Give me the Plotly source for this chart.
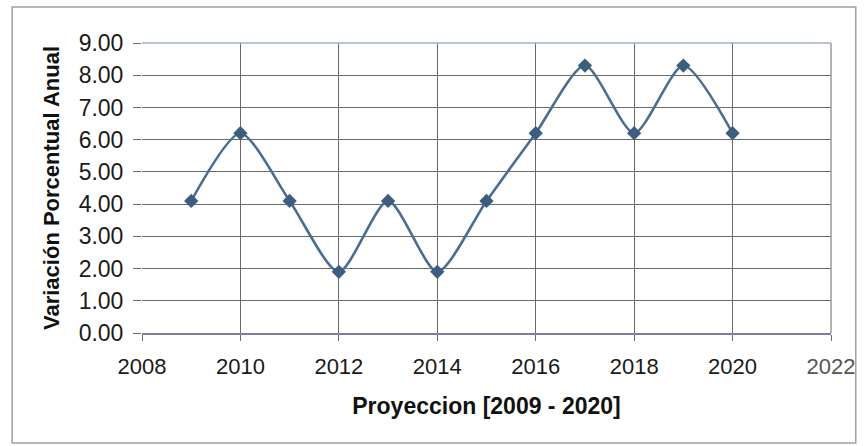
import plotly.graph_objects as go

# Annual projection data
years = [2009, 2010, 2011, 2012, 2013, 2014, 2015, 2016, 2017, 2018, 2019, 2020]
variacion = [4.1, 6.2, 4.1, 1.9, 4.1, 1.9, 4.1, 6.2, 8.3, 6.2, 8.3, 6.2]

x_ticks = [2008, 2010, 2012, 2014, 2016, 2018, 2020, 2022]
y_ticks = [0, 1, 2, 3, 4, 5, 6, 7, 8, 9]

W, H = 867, 446
ml, mr, mt, mb = 142, 30, 43, 113
FONT = "Liberation Sans, Arial"

fig = go.Figure()
fig.add_trace(go.Scatter(
    x=years, y=variacion,
    mode="lines+markers",
    line=dict(shape="spline", smoothing=0.7, color="#4a6d92", width=2.6),
    marker=dict(symbol="diamond", size=11, color="#3d5d7f"),
    showlegend=False,
))

grid = "#6a6a6a"
fig.update_xaxes(
    range=[2008, 2022], tickvals=x_ticks,
    ticktext=[str(v) if v != 2022 else '<span style="color:#555">2022</span>' for v in x_ticks],
    showgrid=True, gridcolor=grid, gridwidth=1,
    zeroline=False, showline=True, linecolor="#7b7fa8", linewidth=1.5,
    ticks="outside", ticklen=6, tickcolor=grid,
    ticklabelstandoff=7,
    tickfont=dict(family=FONT, size=22, color="#1a1a1a"),
    title=dict(text="<b>Proyeccion [2009 - 2020]</b>",
               font=dict(family=FONT, size=23, color="#111"),
               standoff=20),
)
fig.update_yaxes(
    range=[0, 9], tickvals=y_ticks, tickformat=".2f",
    showgrid=True, gridcolor=grid, gridwidth=1,
    zeroline=False, showline=False,
    ticks="outside", ticklen=8, tickcolor=grid,
    ticklabelstandoff=5,
    tickfont=dict(family=FONT, size=23, color="#1a1a1a"),
    title=dict(text="<b>Variación Porcentual Anual</b>",
               font=dict(family=FONT, size=22, color="#111"),
               standoff=12),
)

pw = W - ml - mr
ph = H - mt - mb
# light frame along top and right of the plotting area
fig.add_shape(type="line", xref="paper", yref="paper", x0=0, x1=1, y0=1, y1=1,
              line=dict(color="#9fb0cc", width=1.5))
fig.add_shape(type="line", xref="paper", yref="paper", x0=1, x1=1, y0=0, y1=1,
              line=dict(color="#9a9a9a", width=1.5))
# outer chart border
fig.add_shape(type="rect", xref="paper", yref="paper",
              x0=(11 - ml) / pw, x1=(862 - ml) / pw,
              y0=(H - mb - 443) / ph, y1=(H - mb - 7) / ph,
              line=dict(color="#a0a0a0", width=1.5))

fig.update_layout(
    width=W, height=H,
    margin=dict(l=ml, r=mr, t=mt, b=mb),
    paper_bgcolor="white", plot_bgcolor="white",
)

fig.write_html("out.html")
